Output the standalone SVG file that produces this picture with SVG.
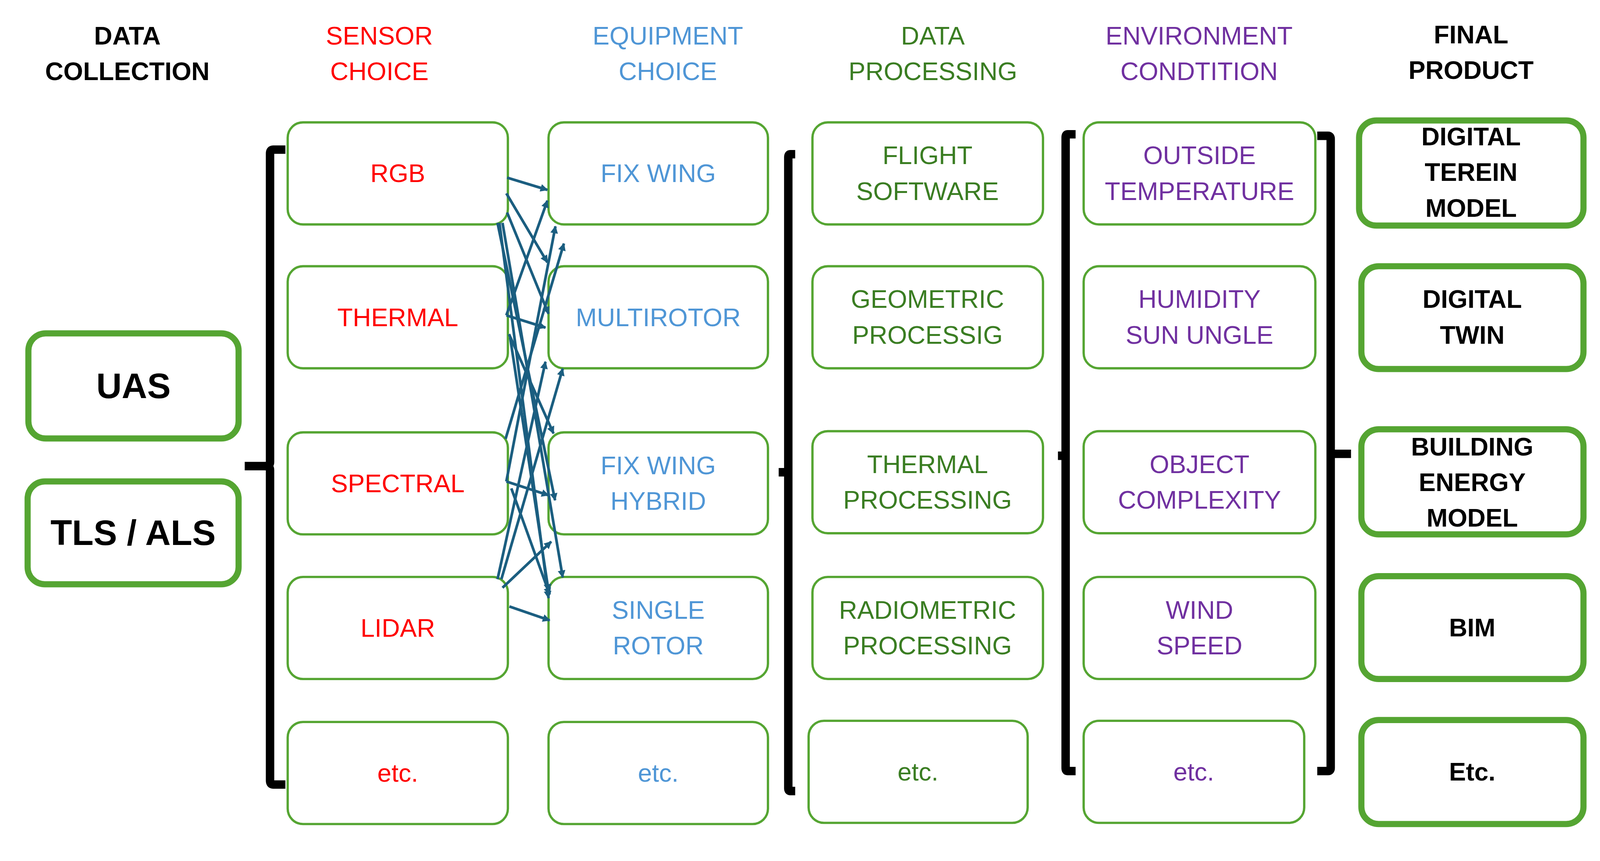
<svg xmlns="http://www.w3.org/2000/svg" width="4168" height="2204" viewBox="0 0 4168 2204">
<style>
text{font-family:"Liberation Sans",Arial,sans-serif;text-anchor:middle;dominant-baseline:central;font-size:66px}
.b{fill:#fff;stroke:#55A532;stroke-width:6}
.t{fill:#fff;stroke:#55A532;stroke-width:16}
.hd{font-weight:bold;font-size:66px}
.k{fill:#000;font-weight:bold}
.big{font-size:92px}
.r{fill:#FF0000}.e{fill:#4F96D6}.g{fill:#3A7D22}.p{fill:#7030A0}
.br{fill:none;stroke:#000;stroke-width:22;stroke-linejoin:round}
.a{stroke:#1B5E80;stroke-width:7;fill:none;marker-end:url(#ah)}
</style>
<defs><marker id="ah" viewBox="0 0 10 10" refX="9" refY="5" markerWidth="30" markerHeight="20" orient="auto" markerUnits="userSpaceOnUse"><path d="M0,0L10,5L0,10z" fill="#1B5E80"/></marker></defs>
<g transform="scale(0.982)">
<g id="headers">
<text class="hd" x="332" y="93" fill="#000">DATA</text><text class="hd" x="332" y="186" fill="#000">COLLECTION</text>
<text x="989" y="93" class="r">SENSOR</text><text x="989" y="186" class="r">CHOICE</text>
<text x="1741" y="93" class="e">EQUIPMENT</text><text x="1741" y="186" class="e">CHOICE</text>
<text x="2432" y="93" class="g">DATA</text><text x="2432" y="186" class="g">PROCESSING</text>
<text x="3126" y="93" class="p">ENVIRONMENT</text><text x="3126" y="186" class="p">CONDTITION</text>
<text class="hd" x="3835" y="90" fill="#000">FINAL</text><text class="hd" x="3835" y="183" fill="#000">PRODUCT</text>
</g>
<g id="brackets">
<path class="br" d="M744,390 H712 Q704,390 704,400 V1205 Q704,1215 690,1215 H638 M690,1215 Q704,1215 704,1225 V2035 Q704,2045 712,2045 H744"/>
<path class="br" d="M2073,402 H2060 Q2055,402 2055,410 V2055 Q2055,2062 2060,2062 H2073 M2055,1231 H2030"/>
<path class="br" d="M2804,350 H2783 Q2778,350 2778,358 V2002 Q2778,2010 2783,2010 H2804 M2778,1188 H2758"/>
<path class="br" d="M3434,354 H3462 Q3469,354 3469,362 V2002 Q3469,2010 3462,2010 H3434 M3469,1183 H3522"/>
</g>
<g id="uas"><rect class="t" x="74" y="869" width="548" height="274" rx="45"/><text class="k big" x="348" y="1006">UAS</text></g>
<g id="tls"><rect class="t" x="72" y="1255" width="550" height="268" rx="45"/><text class="k big" x="347" y="1389">TLS / ALS</text></g>
<g id="s-rgb"><rect class="b" x="750" y="319" width="574" height="266" rx="40"/><text class="r" x="1037" y="452">RGB</text></g>
<g id="s-thermal"><rect class="b" x="750" y="694" width="574" height="266" rx="40"/><text class="r" x="1037" y="827">THERMAL</text></g>
<g id="s-spectral"><rect class="b" x="750" y="1127" width="574" height="266" rx="40"/><text class="r" x="1037" y="1260">SPECTRAL</text></g>
<g id="s-lidar"><rect class="b" x="750" y="1504" width="574" height="266" rx="40"/><text class="r" x="1037" y="1637">LIDAR</text></g>
<g id="s-etc"><rect class="b" x="750" y="1882" width="574" height="266" rx="40"/><text class="r" x="1037" y="2015">etc.</text></g>
<g id="e-fix"><rect class="b" x="1430" y="319" width="572" height="266" rx="40"/><text class="e" x="1716" y="452">FIX WING</text></g>
<g id="e-multi"><rect class="b" x="1430" y="694" width="572" height="266" rx="40"/><text class="e" x="1716" y="827">MULTIROTOR</text></g>
<g id="e-hybrid"><rect class="b" x="1430" y="1127" width="572" height="266" rx="40"/><text class="e" x="1716" y="1213">FIX WING</text><text class="e" x="1716" y="1306">HYBRID</text></g>
<g id="e-single"><rect class="b" x="1430" y="1504" width="572" height="266" rx="40"/><text class="e" x="1716" y="1590">SINGLE</text><text class="e" x="1716" y="1683">ROTOR</text></g>
<g id="e-etc"><rect class="b" x="1430" y="1882" width="572" height="266" rx="40"/><text class="e" x="1716" y="2015">etc.</text></g>
<g id="d-flight"><rect class="b" x="2118" y="319" width="601" height="266" rx="40"/><text class="g" x="2418" y="405">FLIGHT</text><text class="g" x="2418" y="498">SOFTWARE</text></g>
<g id="d-geo"><rect class="b" x="2118" y="694" width="601" height="266" rx="40"/><text class="g" x="2418" y="780">GEOMETRIC</text><text class="g" x="2418" y="873">PROCESSIG</text></g>
<g id="d-thermal"><rect class="b" x="2118" y="1124" width="601" height="266" rx="40"/><text class="g" x="2418" y="1210">THERMAL</text><text class="g" x="2418" y="1303">PROCESSING</text></g>
<g id="d-radio"><rect class="b" x="2118" y="1504" width="601" height="266" rx="40"/><text class="g" x="2418" y="1590">RADIOMETRIC</text><text class="g" x="2418" y="1683">PROCESSING</text></g>
<g id="d-etc"><rect class="b" x="2108" y="1879" width="571" height="266" rx="40"/><text class="g" x="2393" y="2012">etc.</text></g>
<g id="v-temp"><rect class="b" x="2825" y="319" width="604" height="266" rx="40"/><text class="p" x="3127" y="405">OUTSIDE</text><text class="p" x="3127" y="498">TEMPERATURE</text></g>
<g id="v-hum"><rect class="b" x="2825" y="694" width="604" height="266" rx="40"/><text class="p" x="3127" y="780">HUMIDITY</text><text class="p" x="3127" y="873">SUN UNGLE</text></g>
<g id="v-obj"><rect class="b" x="2825" y="1124" width="604" height="266" rx="40"/><text class="p" x="3127" y="1210">OBJECT</text><text class="p" x="3127" y="1303">COMPLEXITY</text></g>
<g id="v-wind"><rect class="b" x="2825" y="1504" width="604" height="266" rx="40"/><text class="p" x="3127" y="1590">WIND</text><text class="p" x="3127" y="1683">SPEED</text></g>
<g id="v-etc"><rect class="b" x="2825" y="1879" width="575" height="266" rx="40"/><text class="p" x="3112" y="2012">etc.</text></g>
<g id="f-dtm"><rect class="t" x="3543" y="314" width="585" height="274" rx="45"/><text class="k" x="3835" y="356">DIGITAL</text><text class="k" x="3835" y="449">TEREIN</text><text class="k" x="3835" y="542">MODEL</text></g>
<g id="f-twin"><rect class="t" x="3549" y="694" width="579" height="268" rx="45"/><text class="k" x="3838" y="780">DIGITAL</text><text class="k" x="3838" y="873">TWIN</text></g>
<g id="f-bem"><rect class="t" x="3549" y="1119" width="579" height="274" rx="45"/><text class="k" x="3838" y="1164">BUILDING</text><text class="k" x="3838" y="1257">ENERGY</text><text class="k" x="3838" y="1350">MODEL</text></g>
<g id="f-bim"><rect class="t" x="3549" y="1502" width="579" height="268" rx="45"/><text class="k" x="3838" y="1636">BIM</text></g>
<g id="f-etc"><rect class="t" x="3549" y="1877" width="579" height="271" rx="45"/><text class="k" x="3838" y="2012">Etc.</text></g>
<g id="connectors">
<path class="a" d="M1322,463L1427,495"/>
<path class="a" d="M1320,504L1427,684"/>
<path class="a" d="M1322,554L1430,818"/>
<path class="a" d="M1297,581L1447,1304"/>
<path class="a" d="M1310,581L1467,1505"/>
<path class="a" d="M1302,581L1430,1559"/>
<path class="a" d="M1320,822L1422,854"/>
<path class="a" d="M1320,822L1427,523"/>
<path class="a" d="M1327,871L1443,1130"/>
<path class="a" d="M1330,880L1430,1541"/>
<path class="a" d="M1320,1255L1448,590"/>
<path class="a" d="M1318,1144L1470,635"/>
<path class="a" d="M1320,1255L1430,1291"/>
<path class="a" d="M1333,1273L1433,1550"/>
<path class="a" d="M1297,1510L1422,943"/>
<path class="a" d="M1307,1510L1467,961"/>
<path class="a" d="M1310,1532L1437,1412"/>
<path class="a" d="M1328,1581L1433,1617"/>
</g>
</g>
</svg>
